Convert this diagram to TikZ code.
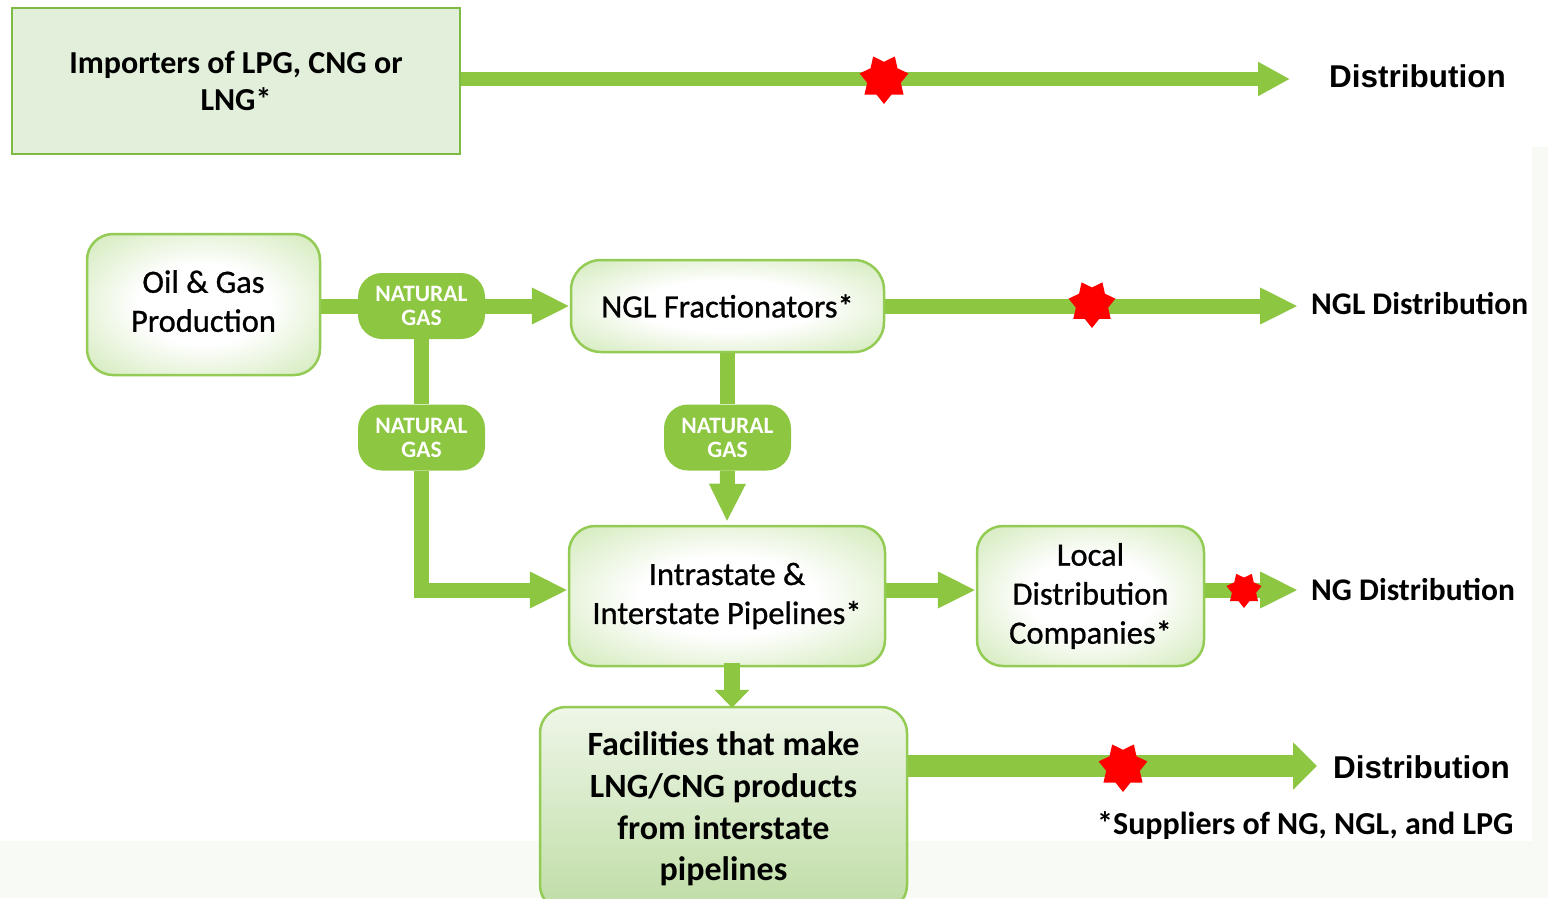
\documentclass[tikz,border=0pt]{standalone}
\usepackage{fontspec}
\setmainfont{Carlito}
\newfontfamily\arialfont{Liberation Sans}
\usetikzlibrary{shapes.geometric,arrows.meta}
\definecolor{garrow}{HTML}{8DC641}
\definecolor{gborder}{HTML}{93CB55}
\definecolor{gfill}{HTML}{B8DC92}
\definecolor{gmid}{HTML}{DDEFCB}
\definecolor{impfill}{HTML}{E2EFDA}
\definecolor{impborder}{HTML}{7DBB45}
\definecolor{bgfaint}{HTML}{F8FAF5}
\definecolor{factop}{HTML}{EEF6E8}
\definecolor{facbot}{HTML}{BFDDA5}
\pgfdeclareradialshading{boxglow}{\pgfpoint{0bp}{0bp}}{color(0bp)=(white); color(14bp)=(white); color(30bp)=(gmid); color(50bp)=(gfill)}
\tikzset{
  gbox/.style={draw=gborder, line width=2.5pt, rounded corners=26pt, shading=boxglow,
    align=center, inner sep=0pt, font=\fontsize{32.5}{39}\selectfont\addfontfeature{FakeBold=0.8}},
  pill/.style={fill=garrow, rounded corners=24pt, minimum width=127pt, minimum height=66pt,
    text=white, align=center, inner sep=0pt, font=\bfseries\fontsize{23.5}{24}\selectfont},
  shaft/.style={draw=garrow, line width=15pt},
  arr/.style={shaft, -{Triangle[length=38pt,width=34pt]}},
  redstar/.style={star, star points=7, star point ratio=1.45, fill=red, inner sep=0pt,
    shape border rotate=180},
  lbl/.style={anchor=west, inner sep=0pt},
}
\begin{document}
\begin{tikzpicture}[x=1pt,y=-1pt]
\useasboundingbox (0,0) rectangle (1548,898);
% faint background strips
\fill[bgfaint] (1532,147) rectangle (1548,898);
\fill[bgfaint] (0,841) rectangle (1548,898);

% boxes
\node[draw=impborder, line width=1.5pt, fill=impfill, minimum width=448pt, minimum height=146pt,
  align=center, inner sep=0pt, font=\bfseries\fontsize{32}{37}\selectfont] (imp) at (236,81)
  {Importers of LPG, CNG or\\LNG*};
\node[gbox, minimum width=233pt, minimum height=141pt, text depth=7pt] (oil) at (203.5,304.5) {Oil \& Gas\\Production};
\node[pill] (p1) at (421.5,306) {NATURAL\\GAS};
\node[gbox, minimum width=313pt, minimum height=92pt, rounded corners=30pt] (ngl) at (727.5,306) {NGL Fractionators*};
\node[pill] (p2) at (421.5,437.5) {NATURAL\\GAS};
\node[pill] (p3) at (727.5,437.5) {NATURAL\\GAS};
\node[gbox, minimum width=316pt, minimum height=140pt] (intra) at (727,596) {Intrastate \&\\Interstate Pipelines*};
\node[gbox, minimum width=227pt, minimum height=140pt] (lcl) at (1090.5,596) {Local\\Distribution\\Companies*};
\node[draw=gborder, line width=2.5pt, rounded corners=26pt, top color=factop, bottom color=facbot,
  minimum width=367pt, minimum height=204pt, align=center, inner sep=0pt,
  font=\bfseries\fontsize{34}{41.6}\selectfont] (fac) at (723.5,809)
  {Facilities that make\\LNG/CNG products\\from interstate\\pipelines};

% labels
\node[lbl, font=\arialfont\bfseries\fontsize{31.5}{36}\selectfont] (d1) at (1329,76) {Distribution};
\node[lbl, font=\bfseries\fontsize{31.5}{36}\selectfont] (ngld) at (1311,304) {NGL Distribution};
\node[lbl, font=\bfseries\fontsize{31.5}{36}\selectfont] (ngd) at (1311,590) {NG Distribution};
\node[lbl, font=\arialfont\bfseries\fontsize{31.5}{36}\selectfont] (d2) at (1333,767) {Distribution};
\node[lbl, font=\bfseries\fontsize{32}{36}\selectfont] (note) at (1097,826) {*Suppliers of NG, NGL, and LPG};

% connectors
\draw[shaft, line width=14pt, -{Triangle[length=32pt,width=32pt]}] (imp.east |- 0,79) -- ([xshift=-39pt]d1.west |- 0,79);
\draw[shaft] (oil.east |- p1.west) -- (p1.west);
\draw[arr] (p1.east) -- (ngl.west);
\draw[arr] (ngl.east) -- ([xshift=-13pt]ngld.west |- ngl.east);
\draw[shaft] (p1.south) -- (p2.north);
\draw[shaft] (ngl.south) -- (p3.north);
\draw[arr] (p3.south) -- ([yshift=3pt]intra.north);
\draw[arr] (p2.south) |- ([yshift=6pt]intra.west);
\draw[arr] ([yshift=6pt]intra.east) -- ([yshift=6pt]lcl.west);
\draw[arr] ([yshift=6pt]lcl.east) -- ([xshift=-13pt]ngd.west);
\coordinate (ifa) at ([xshift=5pt,yshift=4pt]intra.south);
\draw[shaft, line width=16pt, -{Triangle[length=18pt,width=34pt]}] (ifa) -- ([yshift=-2pt]ifa |- fac.north);
\draw[shaft, line width=22pt, -{Triangle[length=24pt,width=46pt]}] (fac.east |- 0,766) -- ([xshift=-16pt]d2.west |- 0,766);

% stars
\node[redstar, minimum size=50pt] (s1) at (884,79) {};
\node[redstar, minimum size=48pt] (s2) at (1092,304) {};
\node[redstar, minimum size=36pt] (s3) at (1244,590) {};
\node[redstar, minimum size=50pt] (s4) at (1123,767) {};
\end{tikzpicture}
\end{document}
